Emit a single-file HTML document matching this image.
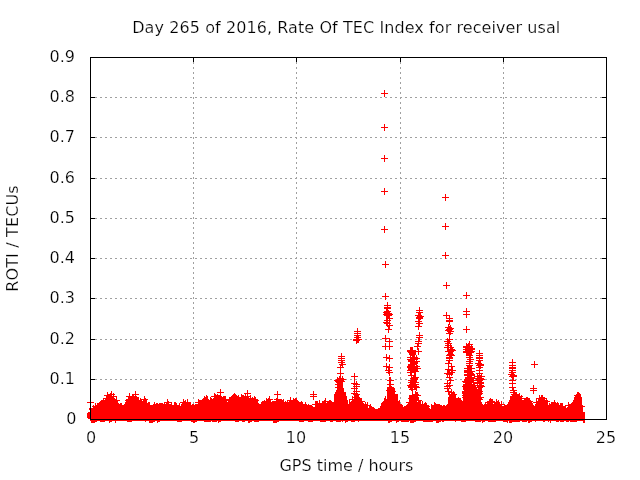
<!DOCTYPE html><html><head><meta charset="utf-8"><title>ROTI plot</title><style>html,body{margin:0;padding:0;background:#fff}svg{display:block}text{font-family:"DejaVu Sans","Liberation Sans",sans-serif;font-size:16px;fill:#000;stroke:#fff;stroke-width:0.22px}</style></head><body>
<svg width="640" height="480" viewBox="0 0 640 480">
<rect width="640" height="480" fill="#fff"/>
<g shape-rendering="crispEdges" stroke="#a0a0a0" stroke-width="1" stroke-dasharray="2 3" fill="none"><path d="M193.5 57V419"/><path d="M296.5 57V419"/><path d="M400.5 57V419"/><path d="M503.5 57V419"/><path d="M90 379.5H607"/><path d="M90 339.5H607"/><path d="M90 298.5H607"/><path d="M90 258.5H607"/><path d="M90 218.5H607"/><path d="M90 178.5H607"/><path d="M90 137.5H607"/><path d="M90 97.5H607"/></g>
<path shape-rendering="crispEdges" stroke="#000" stroke-width="1" fill="none" d="M90.5 57v5M90.5 420v-5M193.5 57v5M193.5 420v-5M296.5 57v5M296.5 420v-5M400.5 57v5M400.5 420v-5M503.5 57v5M503.5 420v-5M606.5 57v5M606.5 420v-5M90 419.5h5M607 419.5h-5M90 379.5h5M607 379.5h-5M90 339.5h5M607 339.5h-5M90 298.5h5M607 298.5h-5M90 258.5h5M607 258.5h-5M90 218.5h5M607 218.5h-5M90 178.5h5M607 178.5h-5M90 137.5h5M607 137.5h-5M90 97.5h5M607 97.5h-5M90 57.5h5M607 57.5h-5"/>
<path shape-rendering="crispEdges" stroke="#f00" stroke-width="1" fill="none" d="M384 90.5h1M384 91.5h1M384 92.5h1M381 93.5h7M384 94.5h1M384 95.5h1M384 96.5h1M384 124.5h1M384 125.5h1M384 126.5h1M381 127.5h7M384 128.5h1M384 129.5h1M384 130.5h1M384 155.5h1M384 156.5h1M384 157.5h1M381 158.5h7M384 159.5h1M384 160.5h1M384 161.5h1M384 188.5h1M384 189.5h1M384 190.5h1M381 191.5h7M384 192.5h1M384 193.5h1M384 194.5h1M445 194.5h1M445 195.5h1M445 196.5h1M442 197.5h7M445 198.5h1M445 199.5h1M445 200.5h1M445 223.5h1M445 224.5h1M445 225.5h1M384 226.5h1M442 226.5h7M384 227.5h1M445 227.5h1M384 228.5h1M445 228.5h1M381 229.5h7M445 229.5h1M384 230.5h1M384 231.5h1M384 232.5h1M445 252.5h1M445 253.5h1M445 254.5h1M442 255.5h7M445 256.5h1M445 257.5h1M445 258.5h1M385 261.5h1M385 262.5h1M385 263.5h1M382 264.5h7M385 265.5h1M385 266.5h1M385 267.5h1M446 282.5h1M446 283.5h1M446 284.5h1M443 285.5h7M446 286.5h1M446 287.5h1M446 288.5h1M466 292.5h1M385 293.5h1M466 293.5h1M385 294.5h1M466 294.5h1M385 295.5h1M463 295.5h7M382 296.5h7M466 296.5h1M385 297.5h1M466 297.5h1M385 298.5h1M466 298.5h1M385 299.5h1M387 302.5h1M387 303.5h1M387 304.5h1M384 305.5h7M387 306.5h1M384 307.5h7M419 307.5h1M384 308.5h7M419 308.5h1M466 308.5h1M386 309.5h2M419 309.5h1M466 309.5h1M386 310.5h3M416 310.5h7M466 310.5h1M384 311.5h7M419 311.5h1M463 311.5h7M383 312.5h7M416 312.5h7M446 312.5h1M466 312.5h1M384 313.5h8M418 313.5h3M446 313.5h1M466 313.5h1M383 314.5h10M418 314.5h3M446 314.5h1M463 314.5h7M384 315.5h8M415 315.5h7M443 315.5h7M466 315.5h1M386 316.5h4M417 316.5h7M446 316.5h1M449 316.5h1M466 316.5h1M386 317.5h4M416 317.5h7M446 317.5h1M449 317.5h1M466 317.5h1M386 318.5h7M416 318.5h7M446 318.5h7M386 319.5h2M389 319.5h1M418 319.5h3M449 319.5h1M384 320.5h7M418 320.5h2M446 320.5h7M386 321.5h2M389 321.5h1M415 321.5h7M446 321.5h7M383 322.5h7M418 322.5h2M449 322.5h1M384 323.5h7M416 323.5h7M449 323.5h1M386 324.5h2M389 324.5h1M418 324.5h2M448 324.5h2M386 325.5h7M418 325.5h2M448 325.5h1M450 325.5h1M387 326.5h3M415 326.5h7M448 326.5h3M466 326.5h1M388 327.5h2M418 327.5h1M445 327.5h7M466 327.5h1M357 328.5h1M388 328.5h2M418 328.5h1M447 328.5h7M466 328.5h1M357 329.5h1M385 329.5h7M418 329.5h1M446 329.5h7M463 329.5h7M357 330.5h1M388 330.5h1M445 330.5h7M466 330.5h1M354 331.5h7M388 331.5h1M447 331.5h7M466 331.5h1M357 332.5h1M388 332.5h1M419 332.5h1M448 332.5h3M466 332.5h1M354 333.5h7M419 333.5h1M446 333.5h7M357 334.5h1M419 334.5h1M449 334.5h2M354 335.5h7M385 335.5h1M416 335.5h7M449 335.5h1M356 336.5h3M385 336.5h1M419 336.5h1M449 336.5h1M354 337.5h7M385 337.5h1M416 337.5h7M449 337.5h1M356 338.5h3M382 338.5h8M418 338.5h2M447 338.5h1M449 338.5h1M353 339.5h9M385 339.5h1M389 339.5h1M418 339.5h2M446 339.5h7M353 340.5h7M385 340.5h1M389 340.5h1M418 340.5h2M447 340.5h3M356 341.5h3M385 341.5h8M415 341.5h7M444 341.5h7M469 341.5h1M356 342.5h3M389 342.5h1M418 342.5h1M447 342.5h3M469 342.5h1M356 343.5h1M385 343.5h1M389 343.5h1M415 343.5h7M445 343.5h7M466 343.5h1M468 343.5h2M385 344.5h1M389 344.5h1M417 344.5h2M447 344.5h2M450 344.5h1M466 344.5h7M385 345.5h1M389 345.5h1M417 345.5h2M445 345.5h7M466 345.5h4M471 345.5h1M382 346.5h11M414 346.5h7M447 346.5h2M450 346.5h2M463 346.5h10M385 347.5h1M389 347.5h1M410 347.5h3M417 347.5h1M444 347.5h10M463 347.5h10M385 348.5h1M389 348.5h1M410 348.5h3M417 348.5h2M447 348.5h2M450 348.5h3M465 348.5h10M385 349.5h1M389 349.5h1M410 349.5h3M417 349.5h2M447 349.5h8M463 349.5h12M407 350.5h9M418 350.5h1M447 350.5h9M465 350.5h8M479 350.5h1M407 351.5h15M445 351.5h9M463 351.5h12M479 351.5h1M408 352.5h8M418 352.5h1M448 352.5h5M463 352.5h11M479 352.5h1M341 353.5h1M409 353.5h7M418 353.5h1M448 353.5h5M466 353.5h6M476 353.5h7M341 354.5h1M386 354.5h1M409 354.5h7M418 354.5h1M447 354.5h7M466 354.5h6M479 354.5h1M341 355.5h1M386 355.5h1M389 355.5h1M410 355.5h5M416 355.5h1M446 355.5h9M466 355.5h7M476 355.5h7M338 356.5h7M386 356.5h1M389 356.5h1M410 356.5h1M412 356.5h3M416 356.5h1M449 356.5h3M469 356.5h2M479 356.5h1M341 357.5h1M383 357.5h7M407 357.5h11M446 357.5h7M466 357.5h7M476 357.5h7M338 358.5h7M386 358.5h7M410 358.5h10M446 358.5h7M469 358.5h2M476 358.5h7M341 359.5h1M386 359.5h1M389 359.5h1M407 359.5h11M449 359.5h1M467 359.5h7M479 359.5h1M512 359.5h1M338 360.5h7M386 360.5h1M389 360.5h1M408 360.5h7M416 360.5h1M446 360.5h7M469 360.5h2M476 360.5h7M512 360.5h1M341 361.5h2M389 361.5h1M408 361.5h12M448 361.5h2M466 361.5h7M478 361.5h3M512 361.5h1M534 361.5h1M338 362.5h7M410 362.5h8M448 362.5h2M469 362.5h2M478 362.5h3M509 362.5h7M534 362.5h1M341 363.5h2M386 363.5h1M410 363.5h8M445 363.5h7M466 363.5h7M475 363.5h7M512 363.5h1M534 363.5h1M339 364.5h7M386 364.5h1M389 364.5h1M408 364.5h9M448 364.5h1M451 364.5h1M469 364.5h1M477 364.5h7M512 364.5h1M531 364.5h7M340 365.5h3M386 365.5h1M389 365.5h1M408 365.5h7M416 365.5h2M448 365.5h1M451 365.5h1M466 365.5h7M476 365.5h8M509 365.5h7M534 365.5h1M340 366.5h1M342 366.5h1M383 366.5h7M407 366.5h13M448 366.5h7M467 366.5h5M478 366.5h3M512 366.5h1M534 366.5h1M337 367.5h7M386 367.5h7M407 367.5h11M448 367.5h1M451 367.5h2M467 367.5h5M476 367.5h7M509 367.5h7M534 367.5h1M340 368.5h1M386 368.5h1M388 368.5h2M408 368.5h13M448 368.5h1M451 368.5h2M464 368.5h11M479 368.5h2M509 368.5h7M340 369.5h1M386 369.5h1M388 369.5h2M408 369.5h10M445 369.5h8M467 369.5h5M479 369.5h1M512 369.5h1M340 370.5h1M385 370.5h7M407 370.5h11M447 370.5h9M464 370.5h8M476 370.5h7M509 370.5h7M340 371.5h1M388 371.5h2M410 371.5h9M447 371.5h3M451 371.5h2M464 371.5h11M479 371.5h1M511 371.5h2M340 372.5h1M386 372.5h7M407 372.5h9M447 372.5h8M464 372.5h9M479 372.5h1M509 372.5h7M337 373.5h7M354 373.5h1M388 373.5h2M410 373.5h2M414 373.5h2M444 373.5h9M467 373.5h7M476 373.5h7M511 373.5h3M340 374.5h1M354 374.5h1M389 374.5h1M410 374.5h2M414 374.5h2M446 374.5h7M464 374.5h11M477 374.5h1M479 374.5h1M481 374.5h1M508 374.5h7M340 375.5h1M354 375.5h1M389 375.5h1M408 375.5h8M447 375.5h1M449 375.5h1M451 375.5h1M464 375.5h11M477 375.5h5M510 375.5h7M339 376.5h2M342 376.5h1M351 376.5h7M411 376.5h1M413 376.5h3M447 376.5h1M449 376.5h1M467 376.5h5M474 376.5h11M509 376.5h8M337 377.5h1M339 377.5h2M342 377.5h1M354 377.5h1M389 377.5h2M411 377.5h8M446 377.5h7M465 377.5h10M477 377.5h5M511 377.5h3M337 378.5h7M354 378.5h1M389 378.5h2M410 378.5h8M449 378.5h2M465 378.5h19M512 378.5h2M336 379.5h10M354 379.5h1M389 379.5h2M411 379.5h7M449 379.5h2M464 379.5h10M476 379.5h9M512 379.5h2M334 380.5h10M354 380.5h1M387 380.5h7M408 380.5h9M447 380.5h7M464 380.5h19M509 380.5h7M335 381.5h10M354 381.5h1M356 381.5h1M389 381.5h2M410 381.5h7M447 381.5h1M450 381.5h1M462 381.5h12M477 381.5h5M512 381.5h1M336 382.5h7M354 382.5h1M356 382.5h1M389 382.5h2M408 382.5h11M447 382.5h1M449 382.5h2M463 382.5h21M512 382.5h1M337 383.5h6M351 383.5h7M389 383.5h2M410 383.5h6M444 383.5h7M465 383.5h7M473 383.5h11M509 383.5h7M335 384.5h8M353 384.5h7M387 384.5h7M409 384.5h10M447 384.5h1M449 384.5h1M463 384.5h12M477 384.5h1M479 384.5h3M512 384.5h1M337 385.5h6M354 385.5h1M356 385.5h1M389 385.5h2M407 385.5h10M446 385.5h7M463 385.5h21M512 385.5h1M533 385.5h1M337 386.5h6M353 386.5h7M389 386.5h3M408 386.5h11M444 386.5h7M462 386.5h14M477 386.5h8M512 386.5h1M533 386.5h1M335 387.5h8M354 387.5h1M356 387.5h1M387 387.5h7M408 387.5h12M447 387.5h1M449 387.5h1M463 387.5h20M509 387.5h7M533 387.5h1M337 388.5h7M351 388.5h7M387 388.5h8M410 388.5h3M414 388.5h3M444 388.5h7M463 388.5h14M478 388.5h4M512 388.5h2M530 388.5h7M220 389.5h1M337 389.5h7M354 389.5h1M356 389.5h1M387 389.5h8M409 389.5h8M447 389.5h2M451 389.5h1M463 389.5h19M512 389.5h2M533 389.5h1M220 390.5h1M247 390.5h1M336 390.5h8M354 390.5h1M356 390.5h1M386 390.5h9M411 390.5h2M416 390.5h1M447 390.5h2M451 390.5h1M464 390.5h18M510 390.5h7M530 390.5h7M111 391.5h1M135 391.5h1M220 391.5h1M247 391.5h1M277 391.5h1M313 391.5h1M336 391.5h8M353 391.5h7M387 391.5h9M412 391.5h1M415 391.5h1M445 391.5h7M453 391.5h1M462 391.5h21M513 391.5h2M533 391.5h1M107 392.5h1M111 392.5h1M135 392.5h1M217 392.5h7M247 392.5h1M277 392.5h1M313 392.5h1M335 392.5h11M354 392.5h1M356 392.5h1M387 392.5h8M412 392.5h1M415 392.5h3M448 392.5h7M462 392.5h20M510 392.5h7M533 392.5h1M577 392.5h2M107 393.5h1M110 393.5h2M113 393.5h1M129 393.5h1M135 393.5h1M214 393.5h1M220 393.5h1M234 393.5h1M244 393.5h7M277 393.5h1M313 393.5h1M335 393.5h11M351 393.5h7M387 393.5h8M412 393.5h1M415 393.5h3M448 393.5h2M451 393.5h4M462 393.5h21M513 393.5h4M519 393.5h1M533 393.5h1M577 393.5h3M107 394.5h8M129 394.5h1M132 394.5h7M214 394.5h2M217 394.5h1M220 394.5h1M233 394.5h3M241 394.5h1M245 394.5h1M247 394.5h1M274 394.5h7M310 394.5h7M334 394.5h12M353 394.5h7M387 394.5h11M412 394.5h7M448 394.5h9M463 394.5h19M511 394.5h9M576 394.5h5M104 395.5h8M113 395.5h1M129 395.5h1M132 395.5h2M135 395.5h1M206 395.5h1M214 395.5h7M232 395.5h5M238 395.5h1M241 395.5h3M245 395.5h1M247 395.5h1M250 395.5h1M277 395.5h1M313 395.5h1M334 395.5h12M354 395.5h5M387 395.5h11M409 395.5h12M449 395.5h7M462 395.5h19M512 395.5h8M521 395.5h1M539 395.5h1M541 395.5h2M574 395.5h7M106 396.5h11M126 396.5h11M144 396.5h1M204 396.5h1M206 396.5h2M211 396.5h11M223 396.5h3M231 396.5h8M241 396.5h10M254 396.5h1M269 396.5h1M277 396.5h1M310 396.5h7M334 396.5h13M352 396.5h1M354 396.5h5M385 396.5h1M387 396.5h11M409 396.5h9M449 396.5h7M463 396.5h18M510 396.5h13M539 396.5h1M541 396.5h2M575 396.5h6M106 397.5h8M116 397.5h1M128 397.5h11M144 397.5h1M204 397.5h4M210 397.5h1M214 397.5h12M229 397.5h20M250 397.5h1M252 397.5h1M254 397.5h2M269 397.5h1M277 397.5h1M290 397.5h1M313 397.5h1M334 397.5h13M352 397.5h8M385 397.5h1M387 397.5h11M409 397.5h10M448 397.5h8M458 397.5h1M462 397.5h22M510 397.5h12M526 397.5h2M539 397.5h6M574 397.5h8M103 398.5h12M116 398.5h1M128 398.5h11M140 398.5h1M144 398.5h2M203 398.5h5M210 398.5h2M213 398.5h13M229 398.5h27M266 398.5h1M268 398.5h2M276 398.5h2M290 398.5h1M293 398.5h1M295 398.5h2M313 398.5h1M325 398.5h1M334 398.5h13M352 398.5h1M354 398.5h8M384 398.5h2M387 398.5h11M408 398.5h11M448 398.5h13M463 398.5h19M490 398.5h1M510 398.5h20M536 398.5h11M574 398.5h8M103 399.5h1M105 399.5h12M126 399.5h13M140 399.5h8M167 399.5h1M183 399.5h1M187 399.5h1M198 399.5h1M202 399.5h7M210 399.5h48M266 399.5h7M274 399.5h8M283 399.5h1M290 399.5h1M293 399.5h4M313 399.5h1M325 399.5h1M334 399.5h13M349 399.5h13M384 399.5h14M409 399.5h10M448 399.5h13M463 399.5h20M489 399.5h4M496 399.5h1M510 399.5h12M524 399.5h6M536 399.5h1M538 399.5h7M546 399.5h1M574 399.5h8M101 400.5h19M125 400.5h17M143 400.5h4M167 400.5h1M183 400.5h1M185 400.5h1M187 400.5h1M198 400.5h61M264 400.5h1M266 400.5h5M276 400.5h8M287 400.5h11M319 400.5h1M324 400.5h2M329 400.5h2M334 400.5h14M349 400.5h1M352 400.5h10M384 400.5h14M399 400.5h1M409 400.5h13M448 400.5h14M463 400.5h18M489 400.5h4M496 400.5h1M498 400.5h1M509 400.5h22M536 400.5h1M538 400.5h10M554 400.5h1M573 400.5h9M100 401.5h18M126 401.5h21M167 401.5h2M183 401.5h3M187 401.5h1M198 401.5h29M228 401.5h30M262 401.5h9M272 401.5h12M285 401.5h1M287 401.5h1M289 401.5h10M301 401.5h1M315 401.5h3M319 401.5h1M322 401.5h10M334 401.5h14M349 401.5h1M351 401.5h14M383 401.5h17M409 401.5h8M418 401.5h3M422 401.5h1M448 401.5h33M487 401.5h8M496 401.5h3M501 401.5h1M509 401.5h24M536 401.5h14M554 401.5h1M573 401.5h9M87 402.5h7M99 402.5h19M125 402.5h22M148 402.5h2M154 402.5h1M164 402.5h8M174 402.5h2M180 402.5h11M195 402.5h63M261 402.5h42M305 402.5h1M315 402.5h3M319 402.5h1M322 402.5h4M327 402.5h21M349 402.5h14M365 402.5h1M367 402.5h1M382 402.5h18M406 402.5h15M422 402.5h1M425 402.5h1M434 402.5h1M448 402.5h34M485 402.5h15M501 402.5h1M508 402.5h24M533 402.5h15M551 402.5h5M557 402.5h1M568 402.5h1M572 402.5h10M95 403.5h1M97 403.5h22M120 403.5h2M125 403.5h25M154 403.5h1M156 403.5h2M159 403.5h4M164 403.5h1M166 403.5h3M171 403.5h1M174 403.5h3M179 403.5h1M182 403.5h9M198 403.5h61M261 403.5h42M305 403.5h1M315 403.5h33M349 403.5h15M365 403.5h1M367 403.5h1M381 403.5h19M408 403.5h13M422 403.5h1M424 403.5h3M434 403.5h2M448 403.5h34M485 403.5h1M487 403.5h6M494 403.5h6M501 403.5h1M508 403.5h25M536 403.5h12M549 403.5h1M551 403.5h8M560 403.5h3M568 403.5h1M571 403.5h11M95 404.5h1M97 404.5h25M124 404.5h26M153 404.5h19M174 404.5h3M179 404.5h1M181 404.5h10M192 404.5h2M195 404.5h112M308 404.5h1M312 404.5h56M370 404.5h1M381 404.5h21M407 404.5h20M431 404.5h1M434 404.5h6M447 404.5h36M484 404.5h21M507 404.5h26M535 404.5h13M549 404.5h10M560 404.5h3M568 404.5h14M93 405.5h1M95 405.5h85M181 405.5h131M315 405.5h56M381 405.5h22M406 405.5h23M431 405.5h11M443 405.5h2M446 405.5h56M504 405.5h30M535 405.5h28M565 405.5h18M92 406.5h221M315 406.5h53M369 406.5h3M380 406.5h23M404 406.5h26M431 406.5h135M568 406.5h17M93 407.5h275M369 407.5h5M380 407.5h49M431 407.5h135M567 407.5h16M89 408.5h286M378 408.5h52M431 408.5h152M89 409.5h494M90 410.5h493M90 411.5h493M88 412.5h497M87 413.5h498M87 414.5h498M87 415.5h498M87 416.5h498M87 417.5h498M88 418.5h497M90 419.5h495M90 420.5h495M91 421.5h6M100 421.5h5M109 421.5h3M115 421.5h1M127 421.5h5M145 421.5h1M149 421.5h6M157 421.5h3M177 421.5h5M191 421.5h6M204 421.5h7M212 421.5h5M218 421.5h3M235 421.5h4M242 421.5h3M248 421.5h4M254 421.5h5M273 421.5h6M299 421.5h5M308 421.5h5M320 421.5h6M330 421.5h3M336 421.5h5M342 421.5h1M345 421.5h3M351 421.5h4M358 421.5h1M388 421.5h4M396 421.5h3M401 421.5h8M410 421.5h6M423 421.5h10M436 421.5h5M442 421.5h2M455 421.5h1M461 421.5h5M475 421.5h6M482 421.5h3M488 421.5h8M503 421.5h5M509 421.5h11M522 421.5h5M528 421.5h4M535 421.5h1M543 421.5h2M548 421.5h1M550 421.5h1M556 421.5h3M560 421.5h4M566 421.5h3M570 421.5h7M583 421.5h2M91 422.5h4M109 422.5h1M115 422.5h1M149 422.5h4M157 422.5h1M193 422.5h2M218 422.5h1M248 422.5h2M273 422.5h4M345 422.5h1M388 422.5h2M396 422.5h1M410 422.5h4M436 422.5h3M482 422.5h1M507 422.5h1M509 422.5h3M528 422.5h2M550 422.5h1M583 422.5h2"/>
<g shape-rendering="crispEdges" stroke="#000" stroke-width="1" fill="none"><rect x="90.5" y="57.5" width="516" height="362"/></g>
<text x="346.3" y="33" text-anchor="middle" letter-spacing="0.08">Day 265 of 2016, Rate Of TEC Index for receiver usal</text><text x="76.5" y="424" text-anchor="end">0</text><text x="75" y="384" text-anchor="end">0.1</text><text x="75" y="344" text-anchor="end">0.2</text><text x="75" y="303" text-anchor="end">0.3</text><text x="75" y="263" text-anchor="end">0.4</text><text x="75" y="223" text-anchor="end">0.5</text><text x="75" y="183" text-anchor="end">0.6</text><text x="75" y="142" text-anchor="end">0.7</text><text x="75" y="102" text-anchor="end">0.8</text><text x="75" y="62" text-anchor="end">0.9</text><text x="91" y="443" text-anchor="middle">0</text><text x="194" y="443" text-anchor="middle">5</text><text x="296" y="443" text-anchor="middle">10</text><text x="400" y="443" text-anchor="middle">15</text><text x="503" y="443" text-anchor="middle">20</text><text x="606" y="443" text-anchor="middle">25</text><text x="346.4" y="471" text-anchor="middle">GPS time / hours</text><text transform="translate(18 238.5) rotate(-90)" text-anchor="middle" letter-spacing="0.15">ROTI / TECUs</text>
</svg></body></html>
